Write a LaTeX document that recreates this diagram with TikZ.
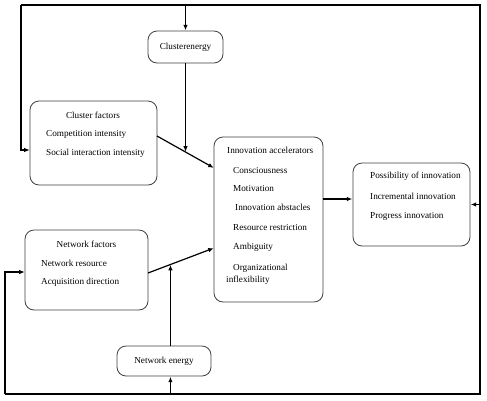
\documentclass[tikz,border=0pt]{standalone}
\usepackage{fontspec}
\setmainfont{Liberation Serif}
\usetikzlibrary{arrows.meta}
\usetikzlibrary{calc}
\colorlet{myframe}{black!75}
\colorlet{myline}{black}
\tikzset{
  >=latex,
  box/.style={draw=myframe,line width=0.8pt,rounded corners=9pt,fill=white,inner sep=0},
  label/.style={inner sep=0,anchor=west,font=\fontsize{9.2}{11}\selectfont},
  title/.style={label,anchor=center},
  connect/.style={line width=1.2pt,myline},
  connect arrow/.style={-{Latex[length=5.5,width=4.5]},line width=1.2pt,myline,shorten >=0.3}
}
\begin{document}
\begin{tikzpicture}[x=1pt,y=-1pt]
    \useasboundingbox (0,0) rectangle (487,400);

    % boxes
    \node[box,minimum width=75,minimum height=32] (ce) at (185.5,47) {};
    \node[box,minimum width=127,minimum height=84] (cf) at (93.5,143) {};
    \node[box,minimum width=109,minimum height=165] (ia) at (268.5,219.5) {};
    \node[box,minimum width=117,minimum height=83] (po) at (411.5,204.5) {};
    \node[box,minimum width=123,minimum height=80] (nf) at (86.5,270) {};
    \node[box,minimum width=94,minimum height=30] (ne) at (164,361) {};

    % texts
    \node[title] (ce text) at (185.5,47) {Clusterenergy};
    \node[title] (cf title) at (93,115) {Cluster factors};
    \node[label] (cf1) at (46,134) {Competition intensity};
    \node[label] (cf2) at (46,153) {Social interaction intensity};
    \node[label] (ia title) at (227,150) {Innovation accelerators};
    \node[label] (ia1) at (233,170) {Consciousness};
    \node[label] (ia2) at (233,188) {Motivation};
    \node[label] (ia3) at (235,207) {Innovation abstacles};
    \node[label] (ia4) at (233,227) {Resource restriction};
    \node[label] (ia5) at (233,247) {Ambiguity};
    \node[label] (ia6) at (233,268) {Organizational};
    \node[label] (ia7) at (226,280) {inflexibility};
    \node[label] (po1) at (370,176) {Possibility of innovation};
    \node[label] (po2) at (370,196) {Incremental innovation};
    \node[label] (po3) at (370,216) {Progress innovation};
    \node[title] (nf title) at (86.5,244) {Network factors};
    \node[label] (nf1) at (41,263) {Network resource};
    \node[label] (nf2) at (41,282) {Acquisition direction};
    \node[title] (ne text) at (164,361) {Network energy};

    % frame round the model
    \coordinate (tl) at (21,5);
    \coordinate (tr) at (480,5);
    \coordinate (br) at (480,394);
    \coordinate (bl) at (5,394);
    \coordinate (cf in) at (30,150);
    \coordinate (nf in) at (25,272);
    \coordinate (cf out) at (157,136);
    \coordinate (ia in1) at (214,168);
    \coordinate (nf out) at (148,273);
    \coordinate (ia in2) at (214,248);
    \coordinate (ia out) at (323,199);
    \coordinate (ce meet) at ($(cf out)!0.5!(ia in1)$);
    \coordinate (ne meet) at ($(nf out)!0.34!(ia in2)$);

    \draw[connect] (tl) -- (tr) -- (br) -- (bl);
    \draw[connect arrow] (tl) |- (cf in);
    \draw[connect arrow] (bl) |- (nf in);
    \draw[connect arrow] (ce.north |- tl) -- (ce.north);
    \draw[connect arrow] (ce.south) -- (ce.south |- ce meet);
    \draw[connect arrow] (cf out) -- (ia in1);
    \draw[connect arrow] (nf out) -- (ia in2);
    \draw[connect arrow] (ne meet |- bl) -- (ne meet |- ne.south);
    \draw[connect arrow] (ne meet |- ne.north) -- (ne meet);
    \draw[connect arrow] (ia out) -- (ia out -| po.west);
    \draw[connect arrow] (br |- po.east) -- (po.east);
\end{tikzpicture}
\end{document}
